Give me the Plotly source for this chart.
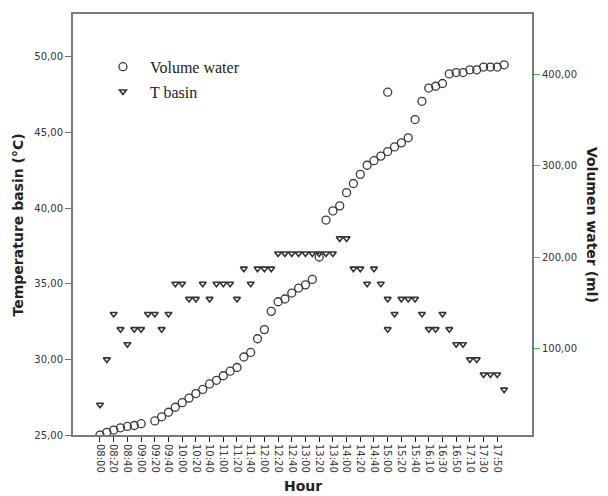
import plotly.graph_objects as go

hours = ["08:00","08:10","08:20","08:30","08:40","08:50","09:00","09:10","09:20","09:30",
         "09:40","09:50","10:00","10:10","10:20","10:30","10:40","10:50","11:00","11:10",
         "11:20","11:30","11:40","11:50","12:00","12:10","12:20","12:30","12:40","12:50",
         "13:00","13:10","13:20","13:30","13:40","13:50","14:00","14:10","14:20","14:30",
         "14:40","14:50","15:00","15:00","15:10","15:20","15:30","15:40","15:50","16:10",
         "16:20","16:30","16:40","16:50","17:00","17:10","17:20","17:30","17:40","17:50","18:00"]

t_basin = [27,30,33,32,31,32,32,33,33,32,
           33,35,35,34,34,35,34,35,35,35,
           34,36,35,36,36,36,37,37,37,37,
           37,37,37,37,37,38,38,36,36,35,
           36,35,34,32,33,34,34,34,33,32,
           32,33,32,31,31,30,30,29,29,29,28]

volume = [5,8,10.5,13,14.5,15.5,17.5,0,20.5,25,
          30,35.5,40.5,45.5,50.5,55,61,65,70,75,
          79,90.5,95.5,110.5,120.5,140.5,151,154,160.5,166,
          169.5,175.5,200,240.5,250.5,256,270.5,280.5,290.5,300.5,
          305.5,310.5,315.5,380.5,320.5,325,330.5,350.5,370.5,385,
          387,390,400.5,402,402,405,405,408,408,408,410.5]

x_ticks = ["08:00","08:20","08:40","09:00","09:20","09:40","10:00","10:20","10:40","11:00",
           "11:20","11:40","12:00","12:20","12:40","13:00","13:20","13:40","14:00","14:20",
           "14:40","15:00","15:20","15:40","16:10","16:30","16:50","17:10","17:30","17:50"]
left_ticks = [25, 30, 35, 40, 45, 50]
left_labels = ["25,00", "30,00", "35,00", "40,00", "45,00", "50,00"]
right_ticks = [100, 200, 300, 400]
right_labels = ["100,00", "200,00", "300,00", "400,00"]

fig = go.Figure()
fig.add_trace(go.Scatter(
    x=hours, y=volume, mode="markers", name="Volume water", yaxis="y2",
    legendgroup="a",
    marker=dict(symbol="circle-open", size=8, color="#3a3a3a", line=dict(width=1.3, color="#3a3a3a")),
))
fig.add_trace(go.Scatter(
    x=hours, y=t_basin, mode="markers", name="T basin", yaxis="y",
    legendgroup="b",
    marker=dict(symbol="triangle-down-open", size=6, color="#333333", line=dict(width=1.6, color="#333333")),
))

tickfont = dict(family="DejaVu Sans", size=10, color="#333333")
fig.update_layout(
    width=608, height=496,
    margin=dict(l=73, r=76, t=14, b=61),
    plot_bgcolor="white", paper_bgcolor="white",
    showlegend=True,
    legend=dict(x=0.05, y=0.915, xanchor="left", yanchor="top",
                font=dict(family="Liberation Serif", size=16, color="#222222"),
                bgcolor="rgba(0,0,0,0)", itemwidth=44, tracegroupgap=1),
    xaxis=dict(type="category", categoryorder="array", categoryarray=list(dict.fromkeys(hours)),
               range=[-3.94, 63.07], tickmode="array", tickvals=x_ticks, ticktext=x_ticks,
               tickangle=90, tickfont=tickfont, ticks="outside", ticklen=5, tickcolor="#222222",
               showline=True, linecolor="#7a7a7a", linewidth=2, mirror=True, showgrid=False,
               zeroline=False),
    yaxis=dict(range=[25, 52.84], tickmode="array", tickvals=left_ticks, ticktext=left_labels,
               tickfont=tickfont, ticks="outside", ticklen=6, tickcolor="#5b6fc4",
               showline=True, linecolor="#7a7a7a", linewidth=2, showgrid=False, zeroline=False),
    yaxis2=dict(range=[5.1, 466.1], overlaying="y", side="right", tickmode="array",
                tickvals=right_ticks, ticktext=right_labels, tickfont=tickfont,
                ticks="outside", ticklen=6, tickcolor="#3cc04a",
                showline=True, linecolor="#7a7a7a", linewidth=2, showgrid=False, zeroline=False),
    annotations=[
        dict(text="<b>Temperature basin (°C)</b>", xref="paper", yref="paper", x=-0.12, y=0.5,
             xanchor="center", yanchor="middle",
             textangle=-90, showarrow=False, font=dict(family="DejaVu Sans", size=14, color="#222222")),
        dict(text="<b>Volumen water (ml)</b>", xref="paper", yref="paper", x=1.132, y=0.5,
             xanchor="center", yanchor="middle",
             textangle=90, showarrow=False, font=dict(family="DejaVu Sans", size=14, color="#222222")),
        dict(text="<b>Hour</b>", xref="paper", yref="paper", x=0.5, y=-0.121,
             xanchor="center", yanchor="middle",
             showarrow=False, font=dict(family="DejaVu Sans", size=14, color="#222222")),
    ],
)
fig.write_html("out.html")
